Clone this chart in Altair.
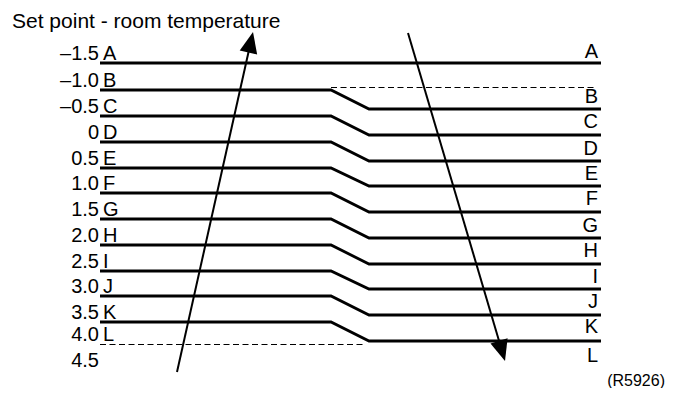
import math
import altair as alt
import pandas as pd

# ---- drawing canvas (units = reference picture pixels) ----
X_MIN, X_MAX = 8, 666
Y_MIN, Y_MAX = 8, 388
W, H = X_MAX - X_MIN, Y_MAX - Y_MIN

# ---- texts ----
title_text = "Set point - room temperature"
code_label = "(R5926)"
left_values = ["–1.5", "–1.0", "–0.5", "0", "0.5", "1.0", "1.5", "2.0",
               "2.5", "3.0", "3.5", "4.0", "4.5"]
left_letters = ["A", "B", "C", "D", "E", "F", "G", "H", "I", "J", "K", "L"]
right_letters = ["A", "B", "C", "D", "E", "F", "G", "H", "I", "J", "K", "L"]

# ---- levels ----
left_line_y = [63, 90, 116, 142, 168, 193, 219, 245, 271, 296, 322]
right_line_y = [109, 135, 161, 186, 212, 238, 264, 289, 315, 341]
left_dash_y = 344.5
right_dash_y = 87.5
line_x = [100, 331, 369, 601]          # start, kink start, kink end, end
left_dash_x = [100, 366]
right_dash_x = [331, 597]

left_label_y = [60, 87, 113, 139, 165, 190, 216, 242, 268, 293, 319, 341, 367]
right_label_y = [58, 103, 128, 155, 180, 205, 232, 257, 283, 308, 333, 362]
left_num_x = 99
left_letter_x = 103
right_letter_x = 598

up_arrow = [(177, 372), (253, 32)]     # tail, tip
down_arrow = [(408, 33), (505, 361)]
head_len = 21

# ---- build tables ----
solid = []
solid += [dict(id=0, k=0, x=line_x[0], y=left_line_y[0]),
          dict(id=0, k=1, x=line_x[3], y=left_line_y[0])]
for i in range(1, len(left_line_y)):
    ly, ry = left_line_y[i], right_line_y[i - 1]
    pts = [(line_x[0], ly), (line_x[1], ly), (line_x[2], ry), (line_x[3], ry)]
    for k, (x, y) in enumerate(pts):
        solid.append(dict(id=i, k=k, x=x, y=y))
solid_df = pd.DataFrame(solid)

dash_df = pd.DataFrame([
    dict(id=0, k=0, x=left_dash_x[0], y=left_dash_y),
    dict(id=0, k=1, x=left_dash_x[1], y=left_dash_y),
    dict(id=1, k=0, x=right_dash_x[0], y=right_dash_y),
    dict(id=1, k=1, x=right_dash_x[1], y=right_dash_y),
])

shaft, heads = [], []
for aid, ((x0, y0), (x1, y1)) in enumerate([up_arrow, down_arrow]):
    dx, dy = x1 - x0, y1 - y0
    L = math.hypot(dx, dy)
    ux, uy = dx / L, dy / L
    cx, cy = x1 - ux * head_len / 2, y1 - uy * head_len / 2
    shaft.append(dict(id=aid, k=0, x=x0, y=y0))
    shaft.append(dict(id=aid, k=1, x=cx, y=cy))
    ang = math.degrees(math.atan2(dx, -dy)) % 360
    heads.append(dict(x=cx, y=cy, angle=ang))
shaft_df = pd.DataFrame(shaft)
head_df = pd.DataFrame(heads)

left_num_df = pd.DataFrame(dict(x=left_num_x, y=left_label_y, t=left_values))
left_let_df = pd.DataFrame(dict(x=left_letter_x, y=left_label_y[:12], t=left_letters))
right_let_df = pd.DataFrame(dict(x=right_letter_x, y=right_label_y, t=right_letters))
title_df = pd.DataFrame(dict(x=[12], y=[28], t=[title_text]))
code_df = pd.DataFrame(dict(x=[665], y=[386], t=[code_label]))

xs = alt.X("x:Q", scale=alt.Scale(domain=[X_MIN, X_MAX], range=[0, W], nice=False, zero=False), axis=None)
ys = alt.Y("y:Q", scale=alt.Scale(domain=[Y_MIN, Y_MAX], range=[0, H], nice=False, zero=False), axis=None)

FONT = "Liberation Sans"

solid_layer = alt.Chart(solid_df).mark_line(color="black", strokeWidth=2.8, strokeJoin="miter").encode(
    x=xs, y=ys, detail="id:N", order="k:Q")
dash_layer = alt.Chart(dash_df).mark_line(color="black", strokeWidth=1.2, strokeDash=[6, 3.5]).encode(
    x=xs, y=ys, detail="id:N", order="k:Q")
shaft_layer = alt.Chart(shaft_df).mark_line(color="black", strokeWidth=2).encode(
    x=xs, y=ys, detail="id:N", order="k:Q")
head_layer = alt.Chart(head_df).mark_point(
    shape="M0,-1L0.85,1L-0.85,1Z", filled=True, color="black", opacity=1, size=head_len ** 2
).encode(x=xs, y=ys, angle=alt.Angle("angle:Q", scale=None))

def text_layer(df, align, size):
    return alt.Chart(df).mark_text(align=align, baseline="alphabetic", font=FONT,
                                   fontSize=size, color="black").encode(x=xs, y=ys, text="t:N")

chart = alt.layer(
    solid_layer, dash_layer, shaft_layer, head_layer,
    text_layer(left_num_df, "right", 20),
    text_layer(left_let_df, "left", 20),
    text_layer(right_let_df, "right", 20),
    text_layer(title_df, "left", 21),
    text_layer(code_df, "right", 16),
).properties(width=W, height=H, padding=0, autosize="none", background="white"
).configure_view(stroke=None)

chart.save("out.html", embed_options={"renderer": "svg", "actions": False})
